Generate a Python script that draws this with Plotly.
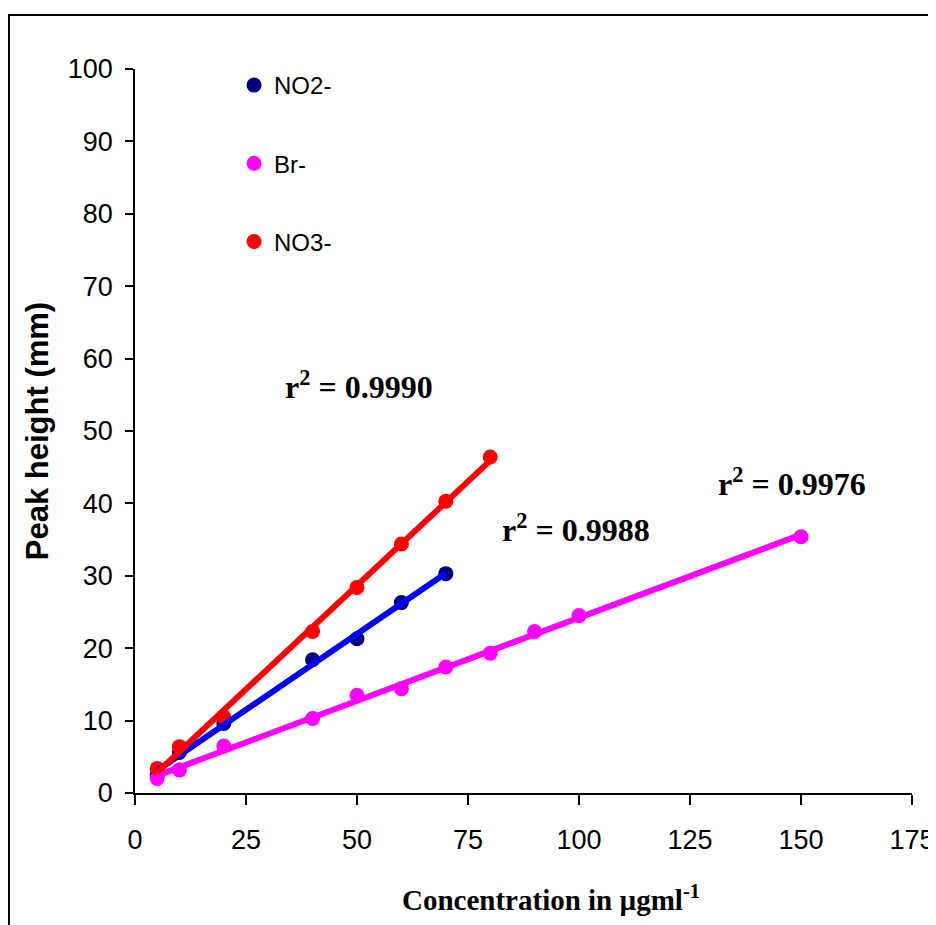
import numpy as np
import plotly.graph_objects as go

# ---- data ----
no2_x = [5, 10, 20, 40, 50, 60, 70]
no2_y = [2.5, 5.6, 9.6, 18.4, 21.3, 26.3, 30.3]

br_x = [5, 10, 20, 40, 50, 60, 70, 80, 90, 100, 150]
br_y = [2.0, 3.2, 6.5, 10.3, 13.5, 14.4, 17.4, 19.3, 22.3, 24.5, 35.4]

no3_x = [5, 10, 20, 40, 50, 60, 70, 80]
no3_y = [3.4, 6.4, 10.5, 22.3, 28.4, 34.4, 40.3, 46.4]

series_names = ["NO2-", "Br-", "NO3-"]
r2_labels = ["0.9988", "0.9976", "0.9990"]
x_ticks = [0, 25, 50, 75, 100, 125, 150, 175]
y_ticks = [0, 10, 20, 30, 40, 50, 60, 70, 80, 90, 100]

marker_colors = ["#000080", "#FF00FF", "#FF0000"]
line_colors = ["#0000FF", "#FF00FF", "#FF0000"]

xs = [no2_x, br_x, no3_x]
ys = [no2_y, br_y, no3_y]

fig = go.Figure()

# markers
for i, (x, y) in enumerate(zip(xs, ys)):
    fig.add_trace(go.Scatter(
        x=x, y=y, mode="markers", name=series_names[i],
        legendgroup=series_names[i],
        marker=dict(symbol="circle", size=15, color=marker_colors[i]),
    ))

# linear trendlines (least-squares fits of the data)
for i, (x, y) in enumerate(zip(xs, ys)):
    k, b = np.polyfit(x, y, 1)
    xl = [min(x), max(x)]
    yl = [k * v + b for v in xl]
    fig.add_trace(go.Scatter(
        x=xl, y=yl, mode="lines", showlegend=False,
        line=dict(color=line_colors[i], width=6),
        hoverinfo="skip",
    ))

# page is rendered with an 8px body margin -> work in page pixels minus offset
OFF = 8
W, H = 936 - OFF, 925 - OFF
L = 135 - OFF
T = 69 - OFF
R = W - (911.7 - OFF)
B = H - (792.7 - OFF)
pw, ph = W - L - R, H - T - B

def pxx(px):  # page x pixel -> paper
    return (px - OFF - L) / pw

def pxy(py):  # page y pixel -> paper
    return (H - B - (py - OFF)) / ph

# r^2 annotations
ann_font = dict(family="Liberation Serif, Times New Roman, serif", size=32, color="black")
ann_pos = [(500, 528), (716, 482), (283, 385)]
for (ax, ay), lab in zip(ann_pos, r2_labels):
    fig.add_annotation(x=pxx(ax), y=pxy(ay), xref="paper", yref="paper",
                       xanchor="left", yanchor="middle",
                       text="<b>r<sup>2</sup> = " + lab + "</b>", showarrow=False, font=ann_font)

# x-axis title (placed right of centre, as in the reference)
fig.add_annotation(x=pxx(551), y=pxy(898), xref="paper", yref="paper",
                   xanchor="center", yanchor="middle", showarrow=False,
                   text="<b>Concentration in µgml<sup>-1</sup></b>",
                   font=dict(family="Liberation Serif, Times New Roman, serif", size=29, color="black"))

# outer frame (partially cut off in the reference)
fig.add_shape(type="rect", xref="paper", yref="paper",
              x0=pxx(9), x1=pxx(980),
              y0=pxy(980), y1=pxy(15),
              line=dict(color="black", width=2), fillcolor="rgba(0,0,0,0)", layer="below")

tick_font = dict(family="Liberation Sans, Arial, sans-serif", size=27, color="black")

fig.update_layout(
    width=W, height=H,
    margin=dict(l=L, r=R, t=T, b=B, autoexpand=False),
    paper_bgcolor="white", plot_bgcolor="white",
    showlegend=True,
    legend=dict(x=pxx(234), y=pxy(63), xanchor="left", yanchor="top",
                font=dict(family="Liberation Sans, Arial, sans-serif", size=24, color="black"),
                tracegroupgap=44, bgcolor="rgba(0,0,0,0)", borderwidth=0),
    xaxis=dict(range=[0, 175], tickvals=x_ticks, showgrid=False, zeroline=False,
               automargin=False,
               showline=True, linecolor="black", linewidth=1.5,
               ticks="outside", ticklen=10, tickwidth=1.5, tickcolor="black",
               tickfont=tick_font, ticklabelstandoff=12),
    yaxis=dict(range=[0, 100], tickvals=y_ticks, showgrid=False, zeroline=False,
               automargin=False,
               showline=True, linecolor="black", linewidth=1.5,
               ticks="outside", ticklen=8, tickwidth=1.5, tickcolor="black",
               tickfont=tick_font, ticklabelstandoff=7,
               title=dict(text="<b>Peak height (mm)</b>",
                          font=dict(family="Liberation Sans, Arial, sans-serif", size=31, color="black"),
                          standoff=10)),
)

fig.write_html("out.html")
